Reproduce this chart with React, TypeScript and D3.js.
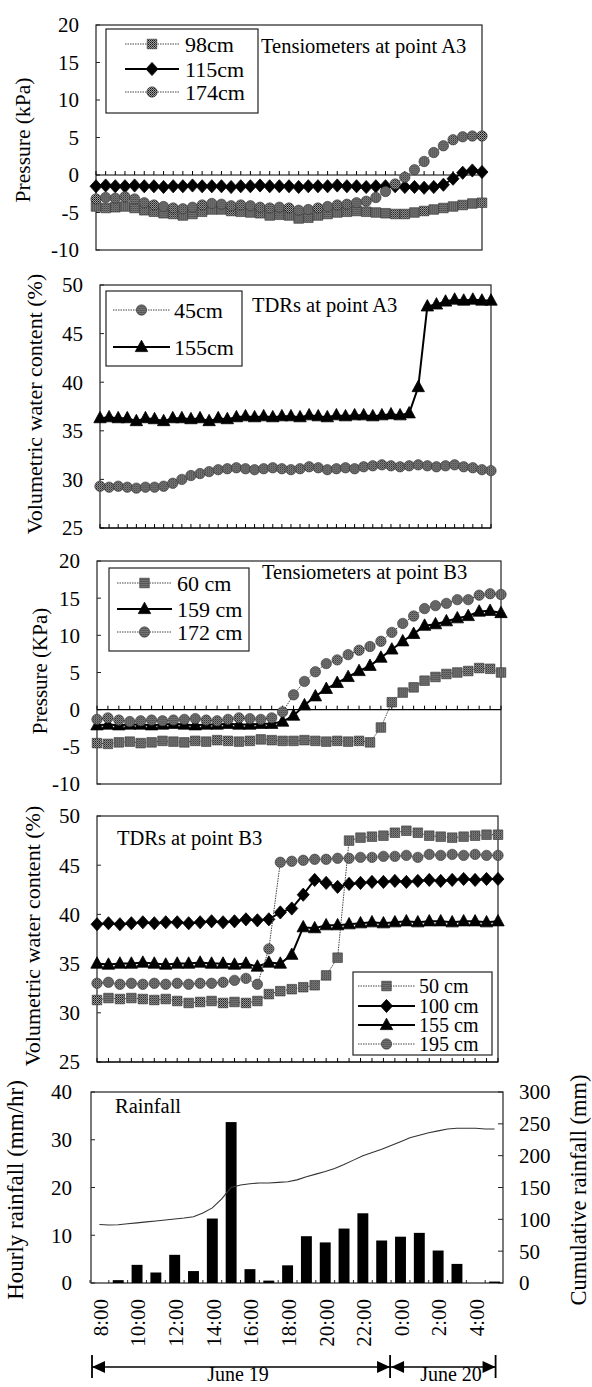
import React from 'react'
import * as d3 from 'd3'

const FONT = '"Liberation Serif", "Times New Roman", Times, serif'

// ---- Tensiometers at point A3 (kPa)
const a3Tens98 = [
  -4.2, -4.4, -4.3, -4.2, -4.4, -4.7, -4.9, -5.1, -5.2, -5.4,
  -5.2, -4.9, -4.6, -4.6, -4.8, -4.9, -5.0, -5.1, -5.4, -5.3,
  -5.4, -5.8, -5.7, -5.4, -5.2, -5.0, -4.9, -4.8, -4.9, -5.0,
  -5.1, -5.2, -5.2, -5.0, -4.8, -4.6, -4.4, -4.2, -4.0, -3.8,
  -3.7,
]
const a3Tens115 = [
  -1.5, -1.4, -1.5, -1.5, -1.4, -1.5, -1.5, -1.6, -1.5, -1.5,
  -1.4, -1.5, -1.5, -1.5, -1.6, -1.5, -1.5, -1.4, -1.5, -1.5,
  -1.5, -1.6, -1.5, -1.5, -1.5, -1.4, -1.5, -1.5, -1.6, -1.5,
  -1.5, -1.5, -1.6, -1.6, -1.7, -1.6, -1.3, -0.5, 0.3, 0.6,
  0.4,
]
const a3Tens174 = [
  -3.2, -3.0, -3.1, -2.9, -3.2, -3.7, -4.0, -4.2, -4.4, -4.5,
  -4.3, -4.0, -3.8, -3.9, -4.1, -4.0, -4.1, -4.3, -4.4, -4.3,
  -4.4, -4.7, -4.6, -4.4, -4.2, -4.0, -3.9, -3.7, -3.5, -3.0,
  -2.2, -1.2, -0.3, 0.7, 1.8, 3.0, 3.9, 4.7, 5.1, 5.2,
  5.2,
]

// ---- TDRs at point A3 (%)
const a3Tdr45 = [
  29.3, 29.2, 29.3, 29.2, 29.1, 29.2, 29.2, 29.3, 29.6, 30.0,
  30.4, 30.6, 30.8, 31.0, 31.1, 31.2, 31.1, 31.0, 31.1, 31.2,
  31.1, 31.0, 31.1, 31.3, 31.2, 31.0, 31.1, 31.2, 31.1, 31.3,
  31.4, 31.5, 31.4, 31.3, 31.4, 31.5, 31.4, 31.3, 31.4, 31.5,
  31.3, 31.2, 31.0, 30.9,
]
const a3Tdr155 = [
  36.3, 36.4, 36.3, 36.3, 36.0, 36.3, 36.2, 36.0, 36.3, 36.3,
  36.2, 36.3, 36.0, 36.3, 36.2, 36.4, 36.5, 36.4, 36.5, 36.4,
  36.5, 36.5, 36.4, 36.6, 36.5, 36.4, 36.6, 36.5, 36.6, 36.6,
  36.5, 36.6, 36.7, 36.6, 36.8, 39.5, 47.8, 48.0, 48.3, 48.5,
  48.4, 48.5, 48.4, 48.4,
]

// ---- Tensiometers at point B3 (kPa)
const b3Tens60 = [
  -4.5, -4.6, -4.4, -4.3, -4.5, -4.4, -4.2, -4.3, -4.4, -4.2,
  -4.3, -4.1, -4.2, -4.3, -4.2, -4.0, -4.1, -4.2, -4.2, -4.1,
  -4.2, -4.3, -4.2, -4.3, -4.2, -4.4, -2.4, 1.0, 2.3, 3.0,
  3.9, 4.4, 4.8, 5.0, 5.2, 5.6, 5.5, 5.0,
]
const b3Tens159 = [
  -2.1, -2.0, -2.1, -2.0, -2.0, -2.1, -2.0, -1.9, -2.0, -2.1,
  -2.0, -2.0, -1.9, -2.0, -2.0, -1.9, -1.9, -1.6, -0.8, 0.6,
  1.8, 2.8, 3.6, 4.4, 5.2, 5.9, 7.0, 8.1, 9.2, 10.2,
  11.3, 11.5, 11.9, 12.3, 12.6, 13.2, 13.3, 13.0,
]
const b3Tens172 = [
  -1.3, -1.1, -1.4, -1.6, -1.5, -1.4, -1.5, -1.4, -1.3, -1.2,
  -1.4, -1.5, -1.3, -1.1, -1.2, -1.3, -1.1, -0.3, 2.0, 3.8,
  5.1, 6.2, 6.7, 7.4, 8.0, 8.5, 9.2, 10.4, 11.6, 12.6,
  13.6, 14.0, 14.3, 14.8, 14.8, 15.4, 15.6, 15.5,
]

// ---- TDRs at point B3 (%)
const b3Tdr50 = [
  31.3, 31.5, 31.4, 31.5, 31.4, 31.3, 31.4, 31.2, 31.0, 31.1,
  31.2, 31.0, 31.1, 31.0, 31.2, 31.9, 32.2, 32.4, 32.6, 32.8,
  33.8, 35.6, 47.5, 47.8, 47.9, 48.0, 48.3, 48.5, 48.3, 48.0,
  47.9, 47.8, 47.9, 48.0, 48.1, 48.1,
]
const b3Tdr100 = [
  39.0, 39.1, 39.0, 39.1, 39.2, 39.1, 39.2, 39.2, 39.1, 39.2,
  39.3, 39.2, 39.3, 39.5, 39.4, 39.5, 40.2, 40.6, 42.0, 43.5,
  43.2, 42.8, 43.1, 43.2, 43.3, 43.3, 43.4, 43.3, 43.4, 43.5,
  43.4, 43.5, 43.6, 43.5, 43.6, 43.6,
]
const b3Tdr155 = [
  35.0, 34.9, 35.0, 35.0, 35.1, 35.0, 34.9, 35.0, 35.0, 35.1,
  35.0, 35.0, 34.9, 35.0, 34.7, 35.1, 35.0, 35.9, 38.7, 38.6,
  38.9, 38.9, 39.0, 39.1, 39.2, 39.1, 39.2, 39.3, 39.2, 39.3,
  39.3, 39.2, 39.3, 39.3, 39.2, 39.3,
]
const b3Tdr195 = [
  33.0, 33.1, 32.9, 33.0, 32.9, 33.0, 32.9, 33.0, 32.9, 33.0,
  33.0, 33.1, 33.3, 33.5, 32.9, 36.5, 45.3, 45.4, 45.5, 45.6,
  45.6, 45.7, 45.7, 45.8, 45.8, 45.9, 45.9, 46.0, 45.8, 46.1,
  46.0, 46.1, 46.0, 46.1, 46.0, 46.0,
]

// ---- Rainfall
const rainHours = [
  '8:00', '9:00', '10:00', '11:00', '12:00', '13:00', '14:00', '15:00', '16:00', '17:00', '18:00',
  '19:00', '20:00', '21:00', '22:00', '23:00', '0:00', '1:00', '2:00', '3:00', '4:00', '5:00',
]
const hourlyRain = [
  0, 0.6, 3.8, 2.2, 5.9, 2.5, 13.5, 33.7, 2.9, 0.5, 3.7,
  9.8, 8.5, 11.4, 14.6, 8.9, 9.7, 10.5, 6.8, 4.0, 0, 0.3,
]
const cumHours = [
  0, 0.5, 1, 1.5, 2, 2.5, 3, 3.5, 4, 4.5, 5, 5.5, 6, 6.5, 7, 7.5, 8, 8.5, 9, 9.5, 10,
  10.5, 11, 11.5, 12, 12.5, 13, 13.5, 14, 14.5, 15, 15.5, 16, 16.5, 17, 17.5, 18, 18.5, 19, 19.5, 20, 20.5, 21,
]
const cumRain = [
  92, 91, 91.5, 93, 94.5, 96, 97.5, 99, 100.5, 102,
  104, 110, 118, 132, 150, 154, 156, 157, 157, 158,
  159, 162, 167, 171, 175, 180, 186, 193, 200, 205,
  210, 216, 222, 228, 232, 236, 239, 242, 243, 243,
  243, 242, 242,
]

type Shape = 'square' | 'diamond' | 'triangle' | 'circle'
type Series = { label: string; values: number[]; shape: Shape; grey: boolean }

function markerPath(shape: Shape): string {
  if (shape === 'square') return 'M-4.8,-4.8H4.8V4.8H-4.8Z'
  if (shape === 'diamond') return 'M0,-6.6L6,0L0,6.6L-6,0Z'
  if (shape === 'triangle') return 'M0,-6.8L6.2,4.6L-6.2,4.6Z'
  return 'M5.2,0A5.2,5.2 0 1,1 -5.2,0A5.2,5.2 0 1,1 5.2,0Z'
}

function Marker({ shape, grey, x, y }: { shape: Shape; grey: boolean; x: number; y: number }) {
  return (
    <path
      d={markerPath(shape)}
      transform={`translate(${x},${y})`}
      fill={grey ? 'url(#ht)' : '#000'}
      stroke={grey ? '#333' : '#000'}
      strokeWidth={grey ? 0.6 : 0.8}
    />
  )
}

function seriesStroke(grey: boolean) {
  return grey
    ? { stroke: '#444', strokeWidth: 1, strokeDasharray: '1.5,1' }
    : { stroke: '#000', strokeWidth: 2 }
}

type PanelCfg = {
  left: number; right: number; top: number; bottom: number
  domain: [number, number]; ticks: number[]; axisAt: number
  series: Series[]
  yTitle: string; yTitleX: number; yTitleY: number; yTitleSize: number
  title: string; titleX: number; titleY: number
  legend: { x: number; y: number; w: number; h: number; rows: number[]; l0: number; l1: number; tx: number; size: number }
}

function LinePanel({ cfg }: { cfg: PanelCfg }) {
  const n = cfg.series[0].values.length
  const x = d3.scaleLinear().domain([0, n - 1]).range([cfg.left, cfg.right])
  const y = d3.scaleLinear().domain(cfg.domain).range([cfg.bottom, cfg.top])
  const line = d3.line<number>().x((_, i) => x(i)).y(d => y(d))
  const ay = y(cfg.axisAt)
  const lg = cfg.legend
  const mid = (lg.l0 + lg.l1) / 2
  return (
    <g>
      <rect x={cfg.left} y={cfg.top} width={cfg.right - cfg.left} height={cfg.bottom - cfg.top}
        fill="none" stroke="#222" strokeWidth={1.2} />
      {cfg.ticks.map(t => (
        <g key={t}>
          <line x1={cfg.left} x2={cfg.left + 4} y1={y(t)} y2={y(t)} stroke="#222" />
          <text x={cfg.left - 17} y={y(t)} dy="0.35em" textAnchor="end" fontSize={21}>{t}</text>
        </g>
      ))}
      <line x1={cfg.left} x2={cfg.right} y1={ay} y2={ay} stroke="#000" strokeWidth={1.2} />
      {d3.range(n).map(i => (
        <line key={i} x1={x(i)} x2={x(i)} y1={ay} y2={ay - 4} stroke="#000" strokeWidth={1} />
      ))}
      {cfg.series.map(s => (
        <g key={s.label}>
          <path d={line(s.values) || ''} fill="none" {...seriesStroke(s.grey)} />
          {s.values.map((v, i) => <Marker key={i} shape={s.shape} grey={s.grey} x={x(i)} y={y(v)} />)}
        </g>
      ))}
      <rect x={lg.x} y={lg.y} width={lg.w} height={lg.h} fill="#fff" stroke="#222" strokeWidth={1.2} />
      {cfg.series.map((s, k) => (
        <g key={s.label}>
          <line x1={lg.l0} x2={lg.l1} y1={lg.rows[k]} y2={lg.rows[k]} {...seriesStroke(s.grey)} />
          <Marker shape={s.shape} grey={s.grey} x={mid} y={lg.rows[k]} />
          <text x={lg.tx} y={lg.rows[k]} dy="0.36em" fontSize={lg.size}>{s.label}</text>
        </g>
      ))}
      <text x={cfg.titleX} y={cfg.titleY} fontSize={20.5}>{cfg.title}</text>
      <text transform={`translate(${cfg.yTitleX},${cfg.yTitleY}) rotate(-90)`} textAnchor="middle"
        dy="0.35em" fontSize={cfg.yTitleSize}>{cfg.yTitle}</text>
    </g>
  )
}

const pressTicks = [-10, -5, 0, 5, 10, 15, 20]
const vwcTicks = [25, 30, 35, 40, 45, 50]

const panels: PanelCfg[] = [
  {
    left: 96, right: 482, top: 25, bottom: 250, domain: [-10, 20], ticks: pressTicks, axisAt: 0,
    series: [
      { label: '98cm', values: a3Tens98, shape: 'square', grey: true },
      { label: '115cm', values: a3Tens115, shape: 'diamond', grey: false },
      { label: '174cm', values: a3Tens174, shape: 'circle', grey: true },
    ],
    yTitle: 'Pressure (kPa)', yTitleX: 22, yTitleY: 140, yTitleSize: 21.5,
    title: 'Tensiometers at point A3', titleX: 261, titleY: 53,
    legend: { x: 106, y: 29, w: 152, h: 84, rows: [44, 69, 92], l0: 125, l1: 179, tx: 185, size: 22 },
  },
  {
    left: 100, right: 491, top: 285, bottom: 528, domain: [25, 50], ticks: vwcTicks, axisAt: 25,
    series: [
      { label: '45cm', values: a3Tdr45, shape: 'circle', grey: true },
      { label: '155cm', values: a3Tdr155, shape: 'triangle', grey: false },
    ],
    yTitle: 'Volumetric water content (%)', yTitleX: 34, yTitleY: 404, yTitleSize: 22,
    title: 'TDRs at point A3', titleX: 252, titleY: 312,
    legend: { x: 106, y: 291, w: 136, h: 75, rows: [310, 347], l0: 113, l1: 170, tx: 174, size: 22 },
  },
  {
    left: 97, right: 501, top: 561, bottom: 784, domain: [-10, 20], ticks: pressTicks, axisAt: 0,
    series: [
      { label: '60 cm', values: b3Tens60, shape: 'square', grey: true },
      { label: '159 cm', values: b3Tens159, shape: 'triangle', grey: false },
      { label: '172 cm', values: b3Tens172, shape: 'circle', grey: true },
    ],
    yTitle: 'Pressure  (KPa)', yTitleX: 40, yTitleY: 671, yTitleSize: 21,
    title: 'Tensiometers at point B3', titleX: 262, titleY: 579,
    legend: { x: 109, y: 568, w: 140, h: 83, rows: [583, 609, 632], l0: 117, l1: 172, tx: 177, size: 22 },
  },
  {
    left: 97, right: 498, top: 816, bottom: 1062, domain: [25, 50], ticks: vwcTicks, axisAt: 25,
    series: [
      { label: '50 cm', values: b3Tdr50, shape: 'square', grey: true },
      { label: '100 cm', values: b3Tdr100, shape: 'diamond', grey: false },
      { label: '155 cm', values: b3Tdr155, shape: 'triangle', grey: false },
      { label: '195 cm', values: b3Tdr195, shape: 'circle', grey: true },
    ],
    yTitle: 'Volumetric water content (%)', yTitleX: 32, yTitleY: 936, yTitleSize: 22,
    title: 'TDRs at point B3', titleX: 117, titleY: 845,
    legend: { x: 353, y: 972, w: 139, h: 83, rows: [986, 1006, 1025, 1044], l0: 358, l1: 415, tx: 419, size: 20 },
  },
]

function RainPanel() {
  const left = 91, right = 503, top = 1092, bottom = 1283
  const xb = d3.scaleBand().domain(rainHours).range([90, 504]).paddingInner(0.42).paddingOuter(0.21)
  const bw = xb.bandwidth()
  const step = xb.step()
  const cx = (h: string) => (xb(h) as number) + bw / 2
  const yl = d3.scaleLinear().domain([0, 40]).range([bottom, top])
  const yr = d3.scaleLinear().domain([0, 300]).range([bottom, top])
  const xt = d3.scaleLinear().domain([0, 21]).range([cx('8:00'), cx('5:00')])
  const cumLine = d3.line<number>().x((_, i) => xt(cumHours[i])).y(d => yr(d))
  const dayA = left + 1
  const dayB = cx('0:00') - step / 2 - 1
  const dayC = cx('5:00') + 1
  const ay = 1367
  const head = (tip: number, dir: number) =>
    `M${tip},${ay}L${tip - dir * 13},${ay - 6}L${tip - dir * 13},${ay + 6}Z`
  return (
    <g>
      <rect x={left} y={top} width={right - left} height={bottom - top} fill="none" stroke="#222" strokeWidth={1.2} />
      {[0, 10, 20, 30, 40].map(t => (
        <g key={t}>
          <line x1={left} x2={left + 4} y1={yl(t)} y2={yl(t)} stroke="#222" />
          <text x={left - 19} y={yl(t)} dy="0.35em" textAnchor="end" fontSize={21}>{t}</text>
        </g>
      ))}
      {[0, 50, 100, 150, 200, 250, 300].map(t => (
        <g key={t}>
          <line x1={right} x2={right - 5} y1={yr(t)} y2={yr(t)} stroke="#222" />
          <text x={right + 16} y={yr(t)} dy="0.35em" fontSize={21}>{t}</text>
        </g>
      ))}
      {rainHours.map(h => (
        <line key={h} x1={(xb(h) as number) - (step - bw) / 2} x2={(xb(h) as number) - (step - bw) / 2}
          y1={bottom} y2={bottom - 3} stroke="#222" />
      ))}
      {rainHours.map((h, i) => (
        <rect key={h} x={xb(h)} y={yl(hourlyRain[i])} width={bw} height={bottom - yl(hourlyRain[i])} fill="#000" />
      ))}
      <path d={cumLine(cumRain) || ''} fill="none" stroke="#333" strokeWidth={1.1} />
      <text x={115} y={1113} fontSize={20.5}>Rainfall</text>
      {rainHours.filter((_, i) => i % 2 === 0).map(h => (
        <text key={h} transform={`translate(${cx(h) + 1},${1299}) rotate(-90)`} textAnchor="end"
          dy="0.35em" fontSize={21}>{h}</text>
      ))}
      <text transform={`translate(15,1190) rotate(-90)`} textAnchor="middle" dy="0.35em" fontSize={23}>
        Hourly rainfall (mm/hr)
      </text>
      <text transform={`translate(578,1190) rotate(-90)`} textAnchor="middle" dy="0.35em" fontSize={22.5}>
        Cumulative rainfall (mm)
      </text>
      {/* day brackets */}
      <line x1={dayA} x2={dayC} y1={ay} y2={ay} stroke="#000" strokeWidth={1.6} />
      {[dayA, dayB, dayC].map((d, i) => (
        <line key={i} x1={d} x2={d} y1={1355} y2={1378} stroke="#000" strokeWidth={1.8} />
      ))}
      <path d={head(dayA, -1)} fill="#000" />
      <path d={head(dayB, 1)} fill="#000" />
      <path d={head(dayB + 1, -1)} fill="#000" />
      <path d={head(dayC, 1)} fill="#000" />
      <text x={238} y={1381} textAnchor="middle" fontSize={20}>June 19</text>
      <text x={451} y={1381} textAnchor="middle" fontSize={20}>June 20</text>
    </g>
  )
}

export default function App() {
  return (
    <svg width={592} height={1387} fontFamily={FONT}
      style={{ position: 'absolute', left: 0, top: 0, background: '#fff', fontFamily: FONT }}>
      <defs>
        <pattern id="ht" width="2" height="2" patternUnits="userSpaceOnUse">
          <rect width="2" height="2" fill="#a0a0a0" />
          <rect width="1" height="1" fill="#111" />
          <rect x="1" y="1" width="1" height="1" fill="#444" />
        </pattern>
      </defs>
      {panels.map((p, i) => <LinePanel key={i} cfg={p} />)}
      <RainPanel />
    </svg>
  )
}
